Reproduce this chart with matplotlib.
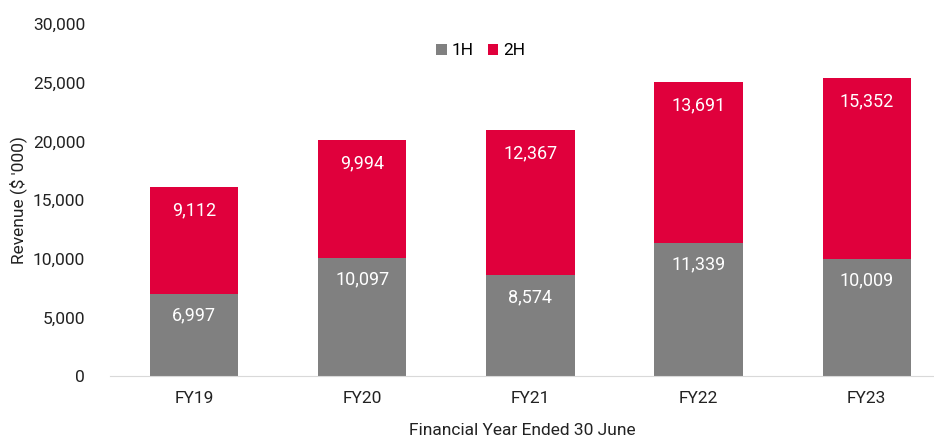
import matplotlib
matplotlib.use("Agg")
import matplotlib.pyplot as plt
import matplotlib.ticker as mticker

plt.rcParams["font.family"] = ["Roboto", "DejaVu Sans"]

years = ["FY19", "FY20", "FY21", "FY22", "FY23"]
first_half = [6997, 10097, 8574, 11339, 10009]
second_half = [9112, 9994, 12367, 13691, 15352]

GREY = "#808080"
RED = "#E0003C"
FS = 12.5

fig = plt.figure(figsize=(9.34, 4.42), dpi=100)
ax = fig.add_axes([110 / 934, 66 / 442, 824 / 934, 352 / 442])

x = list(range(len(years)))
ax.bar(x, first_half, width=0.525, color=GREY, label="1H")
ax.bar(x, second_half, width=0.525, bottom=first_half, color=RED, label="2H")

# value labels sit just inside the top of each segment
for i, (h1, h2) in enumerate(zip(first_half, second_half)):
    ax.annotate(f"{h1:,}", (i, h1), xytext=(0, -15.5), textcoords="offset points",
                ha="center", va="center", color="white", fontsize=13)
    ax.annotate(f"{h2:,}", (i, h1 + h2), xytext=(0, -16.5), textcoords="offset points",
                ha="center", va="center", color="white", fontsize=13)

ax.set_xlim(-0.5, 4.4)
ax.set_ylim(0, 30000)
ax.set_xticks(x)
ax.set_xticklabels(years)
ax.yaxis.set_major_locator(mticker.MultipleLocator(5000))
ax.yaxis.set_major_formatter(mticker.FuncFormatter(lambda v, _: f"{int(v):,}"))
ax.tick_params(axis="both", length=0, labelsize=FS, colors="#222222")
ax.tick_params(axis="x", pad=11)
ax.tick_params(axis="y", pad=18)

for s in ["top", "right", "left"]:
    ax.spines[s].set_visible(False)
ax.spines["bottom"].set_color("#d9d9d9")

ax.set_ylabel("Revenue ($ '000)", fontsize=FS, color="#222222", labelpad=4)
ax.set_xlabel("Financial Year Ended 30 June", fontsize=FS, color="#222222", labelpad=12)

ax.legend(loc="upper center", bbox_to_anchor=(0.45, 0.99), ncol=2, frameon=False,
          fontsize=FS, handlelength=0.6, handleheight=0.6, handletextpad=0.3,
          columnspacing=0.8)

fig.savefig("out.png", dpi=100)
